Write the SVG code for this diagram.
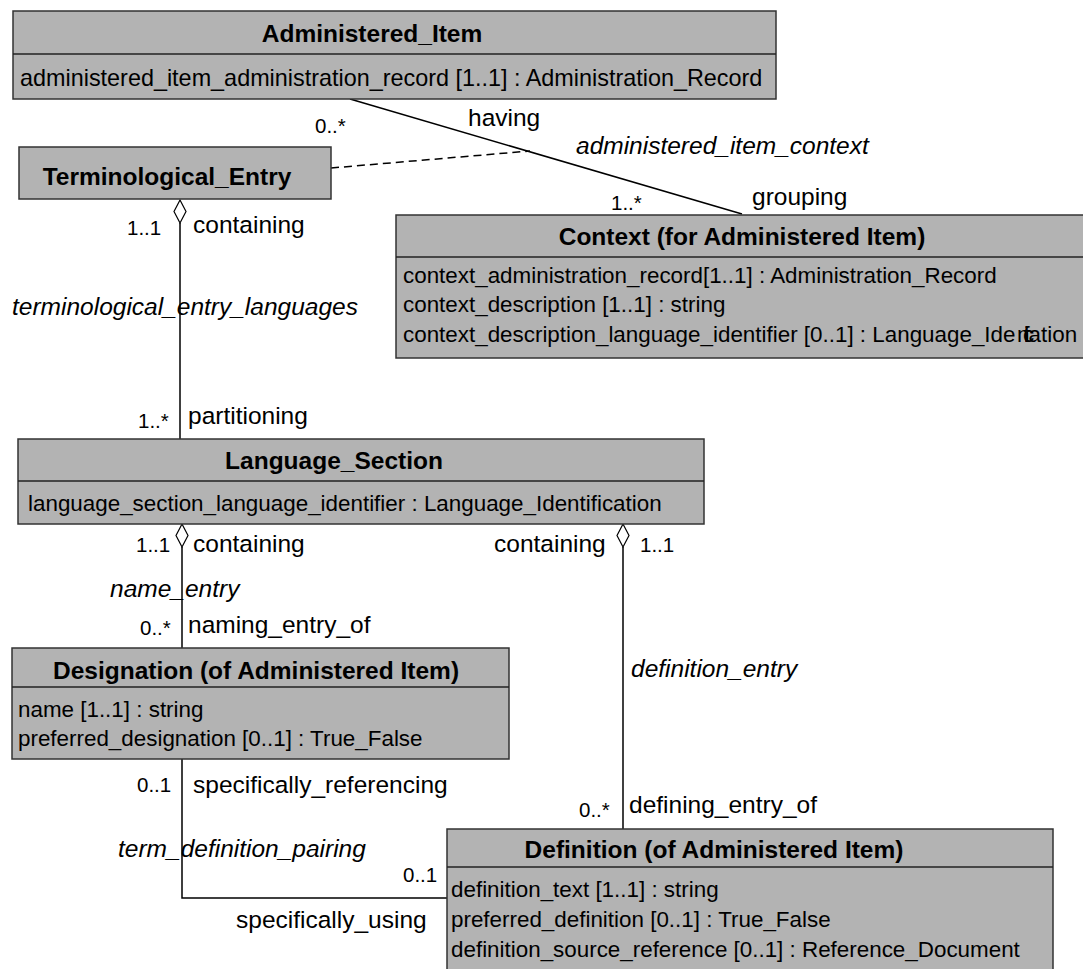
<svg xmlns="http://www.w3.org/2000/svg" width="1083" height="969" viewBox="0 0 1083 969">
<style>
text { font-family: "Liberation Sans", Arial, sans-serif; fill: #000; }
.box { fill: #b3b3b3; stroke: #333; stroke-width: 1.5; }
.div { stroke: #222; stroke-width: 1.5; fill: none; }
.title { font-weight: bold; font-size: 24.5px; text-anchor: middle; }
.attr { font-size: 22.4px; }
.lbl { font-size: 24.5px; }
.it { font-size: 24.5px; font-style: italic; }
.mult { font-size: 20.5px; }
.edge { stroke: #000; stroke-width: 1.5; fill: none; }
.dash { stroke: #000; stroke-width: 1.5; fill: none; stroke-dasharray: 8 5; }
.dia { fill: #fff; stroke: #000; stroke-width: 1.2; }
</style>
<rect width="1083" height="969" fill="#fff"/>
<g id="connectors">
  <line class="edge" x1="350" y1="99" x2="742" y2="214"/>
  <line class="dash" x1="331" y1="168" x2="530" y2="151"/>
  <line class="edge" x1="180" y1="223" x2="180" y2="439"/>
  <polygon class="dia" points="180,200 186,211.5 180,223 174,211.5"/>
  <line class="edge" x1="182" y1="547" x2="182" y2="648"/>
  <polygon class="dia" points="182,524 188,535.5 182,547 176,535.5"/>
  <line class="edge" x1="623" y1="547" x2="623" y2="829"/>
  <polygon class="dia" points="623,524 629,535.5 623,547 617,535.5"/>
  <polyline class="edge" points="182,759 182,898 447,898"/>
  <text class="mult" x="315" y="133">0..*</text>
  <text class="lbl" x="468" y="126">having</text>
  <text class="it" x="576" y="154">administered_item_context</text>
  <text class="mult" x="611" y="210">1..*</text>
  <text class="lbl" x="752" y="205">grouping</text>
  <text class="mult" x="127" y="235">1..1</text>
  <text class="lbl" x="193" y="233">containing</text>
  <text class="it" x="12" y="315">terminological_entry_languages</text>
  <text class="mult" x="138" y="428">1..*</text>
  <text class="lbl" x="188" y="424">partitioning</text>
  <text class="mult" x="136" y="552">1..1</text>
  <text class="lbl" x="193" y="552">containing</text>
  <text class="it" x="110" y="597">name_entry</text>
  <text class="mult" x="140" y="635">0..*</text>
  <text class="lbl" x="188" y="633">naming_entry_of</text>
  <text class="lbl" x="494" y="552">containing</text>
  <text class="mult" x="640" y="552">1..1</text>
  <text class="it" x="631" y="677">definition_entry</text>
  <text class="mult" x="579" y="817">0..*</text>
  <text class="lbl" x="629" y="813">defining_entry_of</text>
  <text class="mult" x="137" y="792">0..1</text>
  <text class="lbl" x="193" y="793">specifically_referencing</text>
  <text class="it" x="118" y="857">term_definition_pairing</text>
  <text class="mult" x="403" y="882">0..1</text>
  <text class="lbl" x="236" y="928">specifically_using</text>
</g>
<g id="administered_item">
  <rect class="box" x="13" y="11" width="763" height="88"/>
  <line class="div" x1="13" y1="54" x2="776" y2="54"/>
  <text class="title" x="372" y="42">Administered_Item</text>
  <text class="attr" x="20" y="86" style="font-size:23.4px">administered_item_administration_record [1..1] : Administration_Record</text>
</g>
<g id="terminological_entry">
  <rect class="box" x="19" y="147" width="312" height="52"/>
  <text class="title" x="167" y="185">Terminological_Entry</text>
</g>
<g id="context">
  <rect class="box" x="396" y="215" width="700" height="143"/>
  <line class="div" x1="396" y1="257" x2="1090" y2="257"/>
  <text class="title" x="742" y="245">Context (for Administered Item)</text>
  <text class="attr" x="403" y="283">context_administration_record[1..1] : Administration_Record</text>
  <text class="attr" x="403" y="312">context_description [1..1] : string</text>
  <text class="attr" x="403" y="342">context_description_language_identifier [0..1] : Language_Ide<tspan x="1017" textLength="24" lengthAdjust="spacing">ntifica</tspan><tspan x="1041">tion</tspan></text>
</g>
<g id="language_section">
  <rect class="box" x="18" y="439" width="686" height="85"/>
  <line class="div" x1="18" y1="481" x2="704" y2="481"/>
  <text class="title" x="334" y="469">Language_Section</text>
  <text class="attr" x="28" y="511">language_section_language_identifier : Language_Identification</text>
</g>
<g id="designation">
  <rect class="box" x="12" y="648" width="497" height="111"/>
  <line class="div" x1="12" y1="687" x2="509" y2="687"/>
  <text class="title" x="256" y="679">Designation (of Administered Item)</text>
  <text class="attr" x="18" y="717">name [1..1] : string</text>
  <text class="attr" x="18" y="746">preferred_designation [0..1] : True_False</text>
</g>
<g id="definition">
  <rect class="box" x="447" y="829" width="606" height="150"/>
  <line class="div" x1="447" y1="867" x2="1053" y2="867"/>
  <text class="title" x="714" y="858">Definition (of Administered Item)</text>
  <text class="attr" x="451" y="897">definition_text [1..1] : string</text>
  <text class="attr" x="451" y="927">preferred_definition [0..1] : True_False</text>
  <text class="attr" x="451" y="957">definition_source_reference [0..1] : Reference_Document</text>
</g>
</svg>
